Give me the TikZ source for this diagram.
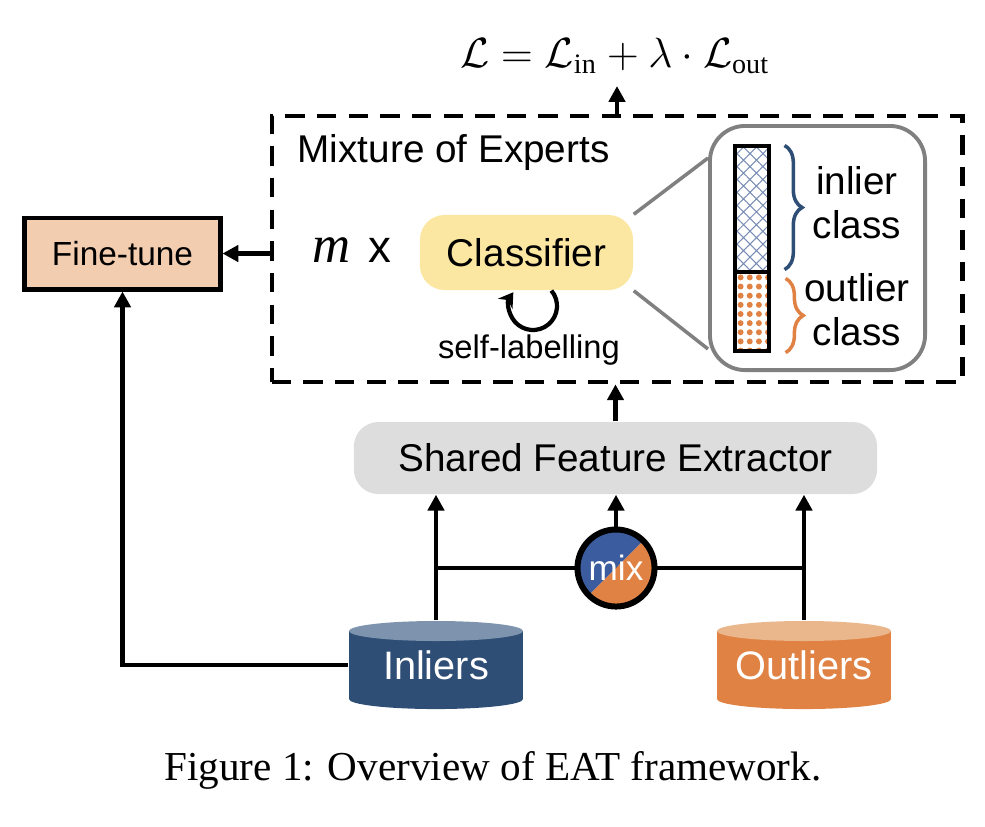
\documentclass[tikz,border=0pt]{standalone}
\usepackage{amsmath}
\usepackage{fontspec}
\setmainfont{Liberation Serif}
\setsansfont{Liberation Sans}
\usepackage{xcolor}
\usetikzlibrary{arrows.meta,positioning,patterns.meta,decorations.pathreplacing}

\definecolor{finefill}{RGB}{242,205,176}
\definecolor{clsfill}{RGB}{251,231,161}
\definecolor{sfefill}{RGB}{221,221,221}
\definecolor{inlbody}{RGB}{46,78,118}
\definecolor{inltop}{RGB}{126,147,174}
\definecolor{outbody}{RGB}{224,130,68}
\definecolor{outtop}{RGB}{234,182,140}
\definecolor{mixblue}{RGB}{60,92,160}
\definecolor{hatchblue}{RGB}{120,140,180}
\definecolor{zbgray}{RGB}{128,128,128}

\begin{document}
\begin{tikzpicture}[x=0.01cm, y=-0.01cm,
    box/.style={draw, line width=1.4pt, inner sep=0pt},
    rbox/.style={rounded corners=7pt, inner sep=0pt},
    arr/.style={-{Triangle[length=4.5pt,width=4.6pt]}, line width=1.4pt},
    ln/.style={line width=1.4pt},
    moebox/.style={draw, line width=1.3pt, dash pattern=on 5.5pt off 3.5pt,
                   minimum width=6.9cm, minimum height=2.66cm},
    sf/.style={font=\fontsize{#1}{12.5}\selectfont\sffamily},
    cyl/.style 2 args={minimum width=1.74cm, minimum height=0.88cm, inner sep=0pt,
        text=white, font=\fontsize{11.3}{13}\selectfont\sffamily,
        path picture={
          \fill[#1] ([yshift=-1mm]path picture bounding box.north west)
              rectangle ([yshift=1mm]path picture bounding box.south east);
          \fill[#1] ([yshift=1mm]path picture bounding box.south) ellipse[x radius=0.87cm, y radius=1mm];
          \fill[#2] ([yshift=-1mm]path picture bounding box.north) ellipse[x radius=0.87cm, y radius=1mm];
        }},
    barpart/.style={draw, line width=0.9pt, minimum width=0.34cm, inner sep=0pt},
    brc/.style={decorate, decoration={brace, amplitude=5pt}, line width=1pt}
]
    \useasboundingbox (0,0) rectangle (985,826);

    % loss on top
    \node[font=\fontsize{12}{14}\selectfont, anchor=base] (loss) at (615,67)
        {$\mathcal{L} = \mathcal{L}_{\text{in}} + \lambda \cdot \mathcal{L}_{\text{out}}$};

    % mixture of experts
    \node[moebox] (moe) at (617,249) {};
    \draw[arr] (moe.north) -- (moe.north |- loss.south);
    \node[sf=11, anchor=base west, inner sep=0pt] (moetitle) at (297,162) {Mixture of Experts};
    \node[sf=13] (mult) at (352,250) {{\rmfamily\itshape\fontsize{15}{16}\selectfont m}\hspace{5pt}x};
    \node[rbox, fill=clsfill, sf=11, minimum width=2.13cm, minimum height=0.75cm] (cls) at (526.5,252.5) {Classifier};
    \draw[line width=1.2pt, -{Stealth[length=4pt,width=5pt]}] (533,306) ++(-40:24)
        arc[start angle=-40, end angle=215, radius=24];
    \node[sf=9.3, anchor=base] (selflab) at (529,358) {self-labelling};

    % zoomed classifier output
    \node[draw=zbgray, line width=1.1pt, rounded corners=10pt,
          minimum width=2.15cm, minimum height=2.44cm] (zb) at (817.5,248) {};
    \draw[zbgray, line width=1pt] (cls.north east) -- (zb.west |- 0,158);
    \draw[zbgray, line width=1pt] (cls.south east) -- (zb.west |- 0,349);
    \node[barpart, minimum height=1.26cm,
          pattern={Hatch[angle=45,distance=2.6pt,line width=0.3pt]}, pattern color=hatchblue] (binl) at (752,209) {};
    \node[barpart, minimum height=0.79cm,
          pattern={Dots[distance=2.6pt,radius=0.85pt]}, pattern color=outbody] (bout) at (752,311.5) {};
    \draw[brc, inlbody] ([xshift=1.5mm]binl.north east) -- ([xshift=1.5mm, yshift=0.3mm]binl.south east);
    \draw[brc, outbody] ([xshift=1.5mm, yshift=-0.8mm]bout.north east) -- ([xshift=1.5mm]bout.south east);
    \node[sf=11, align=center] (inltxt) at (857,203) {inlier\\class};
    \node[sf=11, align=center] (outtxt) at (857,310) {outlier\\class};

    % fine-tune
    \node[box, fill=finefill, sf=9.5, minimum width=1.95cm, minimum height=0.71cm] (fine) at (122.5,253.5) {Fine-tune};
    \draw[arr] (moe.west |- fine.east) -- (fine.east);

    % feature extractor and data
    \node[rbox, fill=sfefill, sf=11, minimum width=5.23cm, minimum height=0.72cm] (sfe) at (615.5,458) {Shared Feature Extractor};
    \draw[arr] (sfe.north) -- (sfe.north |- moe.south);

    \node[cyl={inlbody}{inltop}] (inl) at (436,665) {Inliers};
    \node[cyl={outbody}{outtop}] (outl) at (804,665) {Outliers};

    \draw[ln] (inl.north |- 0,568) -- (outl.north |- 0,568);
    \draw[arr] (inl.north) -- (inl.north |- sfe.south);
    \draw[arr] (outl.north) -- (outl.north |- sfe.south);
    \draw[arr] (inl.west) -| (fine.south);

    \node[circle, draw, line width=1.7pt, minimum size=0.77cm, inner sep=0pt, text=white, sf=10,
          path picture={
            \fill[mixblue] (path picture bounding box.south west) -- (path picture bounding box.north east)
                -- (path picture bounding box.north west) -- cycle;
            \fill[outbody] (path picture bounding box.south west) -- (path picture bounding box.north east)
                -- (path picture bounding box.south east) -- cycle;
          }] (mix) at (616,568) {mix};
    \draw[arr] (mix.north) -- (mix.north |- sfe.south);

    % caption
    \node[font=\fontsize{11.7}{14}\selectfont, anchor=base] (cap) at (493,780) {Figure 1: Overview of EAT framework.};
\end{tikzpicture}
\end{document}
